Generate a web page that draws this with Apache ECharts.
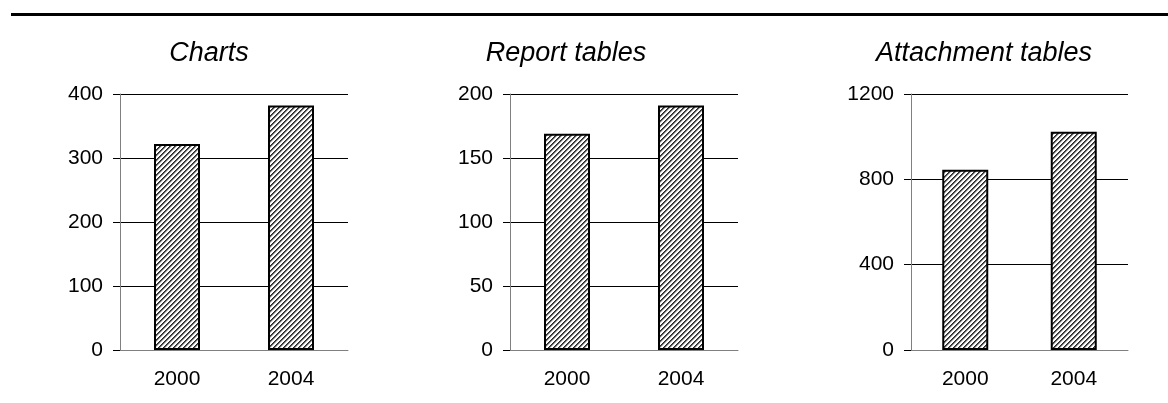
<!DOCTYPE html>
<html>
<head>
<meta charset="utf-8">
<script src="https://cdn.jsdelivr.net/npm/echarts@6/dist/echarts.min.js"></script>
<style>
  html, body { margin: 0; padding: 0; background: #fff; }
  #chart { width: 1168px; height: 403px; }
</style>
</head>
<body>
<div id="chart"></div>
<script>
// Survey years on the category axis
const years = ['2000', '2004'];

// Panel titles
const panelTitles = ['Charts', 'Report tables', 'Attachment tables'];

// Counts per panel
const chartsCounts = [322, 382];
const reportTableCounts = [169, 191];
const attachmentTableCounts = [845, 1023];

// Value-axis ranges and tick steps per panel
const axisMax = [400, 200, 1200];
const axisStep = [100, 50, 400];

// Diagonal hatch used as the bar fill
function hatchPattern() {
  const p = 5;
  const c = document.createElement('canvas');
  c.width = p; c.height = p;
  const ctx = c.getContext('2d');
  const img = ctx.createImageData(p, p);
  for (let y = 0; y < p; y++) {
    for (let x = 0; x < p; x++) {
      const k = (x + y) % p;
      let v = 255;
      if (k === 0) v = 40;
      else if (k === 1) v = 90;
      else if (k === 2) v = 200;
      const i = (y * p + x) * 4;
      img.data[i] = v; img.data[i + 1] = v; img.data[i + 2] = v; img.data[i + 3] = 255;
    }
  }
  ctx.putImageData(img, 0, 0);
  return c;
}
const hatch = { image: hatchPattern(), repeat: 'repeat' };

const FONT = 'Liberation Sans, Arial, sans-serif';
const grids = [
  { left: 120, width: 228, top: 94, height: 256 },
  { left: 510, width: 228, top: 94, height: 256 },
  { left: 911, width: 217, top: 94, height: 256 }
];
const titleCenters = [204, 561, 979];
const seriesData = [chartsCounts, reportTableCounts, attachmentTableCounts];

const option = {
  animation: false,
  backgroundColor: '#fff',
  title: panelTitles.map((t, i) => ({
    text: t,
    left: titleCenters[i],
    top: 35,
    textAlign: 'center',
    textStyle: { fontFamily: FONT, fontStyle: 'italic', fontWeight: 'normal', fontSize: 27, color: '#000' }
  })),
  graphic: [{
    type: 'rect',
    shape: { x: 11, y: 13, width: 1157, height: 3 },
    style: { fill: '#000' },
    silent: true
  }],
  grid: grids,
  xAxis: grids.map((g, i) => ({
    type: 'category',
    gridIndex: i,
    data: years,
    axisLine: { show: true, lineStyle: { color: '#808080', width: 1 } },
    axisTick: { show: false },
    axisLabel: { color: '#000', fontFamily: FONT, fontSize: 21, margin: 19 }
  })),
  yAxis: grids.map((g, i) => ({
    type: 'value',
    gridIndex: i,
    min: 0,
    max: axisMax[i],
    interval: axisStep[i],
    axisLine: { show: true, lineStyle: { color: '#808080', width: 1 } },
    axisTick: { show: true, length: 7, lineStyle: { color: '#000', width: 1 } },
    splitLine: { show: true, lineStyle: { color: '#000', width: 1 } },
    axisLabel: { color: '#000', fontFamily: FONT, fontSize: 21, margin: 17, formatter: (v) => String(v) }
  })),
  series: seriesData.map((d, i) => ({
    type: 'bar',
    xAxisIndex: i,
    yAxisIndex: i,
    data: d,
    barWidth: 46,
    itemStyle: { color: hatch, borderColor: '#000', borderWidth: 2 }
  }))
};

const chart = echarts.init(document.getElementById('chart'), null, { renderer: 'canvas' });
chart.setOption(option);
</script>
</body>
</html>
